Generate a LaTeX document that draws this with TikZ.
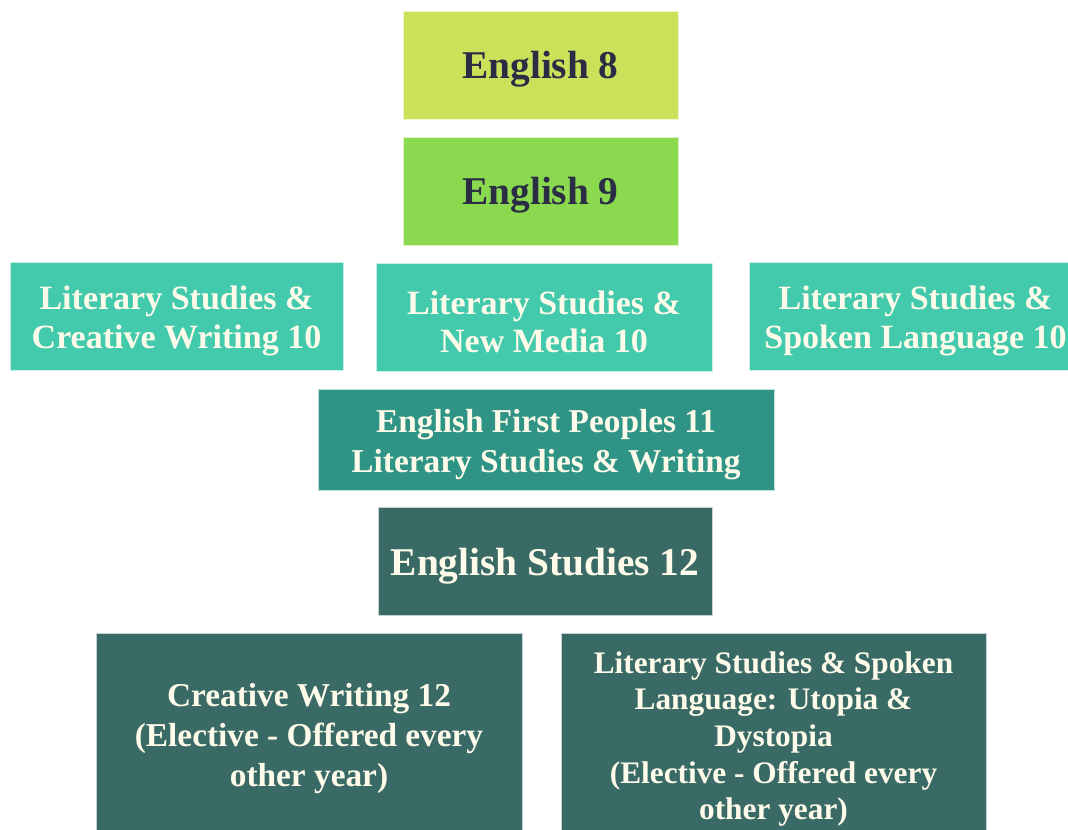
\documentclass[tikz,border=0pt]{standalone}
\usepackage{fontspec}
\setmainfont{Liberation Serif}
\definecolor{cEeight}{HTML}{CCE15A}
\definecolor{cEnine}{HTML}{8AD94F}
\definecolor{cTen}{HTML}{43C9AC}
\definecolor{cEleven}{HTML}{2F9485}
\definecolor{cTwelve}{HTML}{3A6A66}
\definecolor{cDark}{HTML}{2B2D45}
\definecolor{cCream}{HTML}{FFFBEA}
\tikzset{
  box/.style={rectangle, inner sep=0pt, draw=white!70!#1, line width=0.6pt, fill=#1},
  txt/.style={inner sep=0pt, align=center, text=#1},
  big/.style={font=\bfseries\fontsize{29.5pt}{34pt}\selectfont},
  mid/.style={font=\bfseries\fontsize{25.5pt}{29pt}\selectfont},
}
\begin{document}
\begin{tikzpicture}[x=0.75pt,y=-0.75pt]
\useasboundingbox (0,0) rectangle (1068,830);
\clip (0,0) rectangle (1068,830);
\fill[white] (0,0) rectangle (1068,830);
% English 8 and 9
\node[box=cEeight, minimum width=275*0.75pt, minimum height=108*0.75pt] (e8) at (540.5,65) {};
\node[txt=cDark, big] (e8t) at ([yshift=-4*0.75pt]e8.center) {English 8};
\node[box=cEnine, minimum width=275*0.75pt, minimum height=108*0.75pt] (e9) at (540.5,191) {};
\node[txt=cDark, big] (e9t) at ([yshift=-4*0.75pt]e9.center) {English 9};
% Grade 10
\node[box=cTen, minimum width=333*0.75pt, minimum height=108*0.75pt] (lscw) at (176.5,316) {};
\node[txt=cCream, mid] (lscwt) at ([yshift=-5*0.75pt]lscw.center) {Literary Studies \&\\Creative Writing 10};
\node[box=cTen, minimum width=336*0.75pt, minimum height=108*0.75pt] (lsnm) at (544,317) {};
\node[txt=cCream, mid] (lsnmt) at ([yshift=-5*0.75pt]lsnm.center) {Literary Studies \&\\New Media 10};
\node[box=cTen, minimum width=333*0.75pt, minimum height=108*0.75pt] (lssl) at (915.5,316) {};
\node[txt=cCream, mid] (lsslt) at ([yshift=-5*0.75pt]lssl.center) {Literary Studies \&\\Spoken Language 10};
% Grade 11
\node[box=cEleven, minimum width=456*0.75pt, minimum height=101*0.75pt] (efp) at (546,439.5) {};
\node[txt=cCream, font=\bfseries\fontsize{25pt}{30pt}\selectfont] (efpt) at ([yshift=-5*0.75pt]efp.center)
  {English First Peoples 11\\Literary Studies \& Writing};
% Grade 12
\node[box=cTwelve, minimum width=334*0.75pt, minimum height=108*0.75pt] (es12) at (545,561) {};
\node[txt=cCream, big] (es12t) at ([yshift=-5*0.75pt]es12.center) {English Studies 12};
\node[box=cTwelve, minimum width=426*0.75pt, minimum height=206*0.75pt] (cw12) at (309,736) {};
\node[txt=cCream, font=\bfseries\fontsize{25pt}{30pt}\selectfont] (cw12t) at ([yshift=-3*0.75pt]cw12.center)
  {Creative Writing 12\\(Elective - Offered every\\other year)};
\node[box=cTwelve, minimum width=425*0.75pt, minimum height=206*0.75pt] (ud12) at (773.5,736) {};
\node[txt=cCream, font=\bfseries\fontsize{23.5pt}{27.5pt}\selectfont] (ud12t) at ([yshift=-3*0.75pt]ud12.center)
  {Literary Studies \& Spoken\\Language: Utopia \&\\Dystopia\\(Elective - Offered every\\other year)};
\end{tikzpicture}
\end{document}
